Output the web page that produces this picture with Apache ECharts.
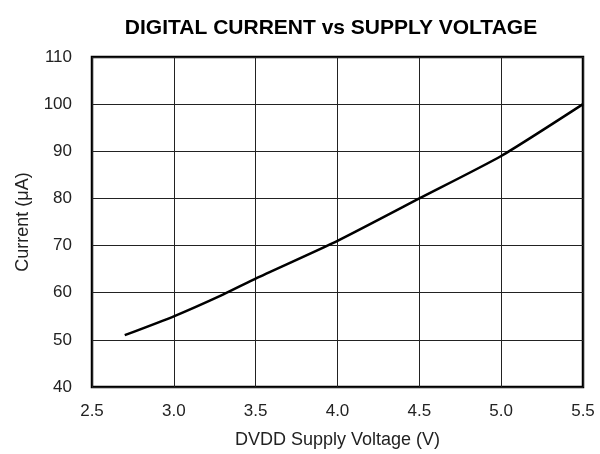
<!DOCTYPE html>
<html>
<head>
<meta charset="utf-8">
<script src="https://cdn.jsdelivr.net/npm/echarts@6/dist/echarts.min.js"></script>
<style>
  html, body { margin: 0; padding: 0; background: #fff; }
  #main { width: 600px; height: 454px; }
</style>
</head>
<body>
<div id="main"></div>
<script>
// supply voltage (V) and digital current (uA)
var voltage = [2.7, 3.0, 3.3, 3.5, 4.0, 4.5, 5.0, 5.5];
var current = [51, 55, 59.6, 63, 71, 80, 89, 100];

var chart = echarts.init(document.getElementById('main'));
var font = 'Liberation Sans, Arial, sans-serif';

var points = [];
for (var i = 0; i < voltage.length; i++) {
    points.push([voltage[i], current[i]]);
}

chart.setOption({
    animation: false,
    title: {
        text: 'DIGITAL CURRENT vs SUPPLY VOLTAGE',
        left: 326, top: 13, textAlign: 'center',
        textStyle: { fontFamily: font, fontSize: 21, fontWeight: 'bold', color: '#000' }
    },
    grid: {
        left: 92, right: 17, top: 57, bottom: 65,
        show: true, borderColor: '#000', borderWidth: 2.5, backgroundColor: 'transparent'
    },
    xAxis: {
        type: 'value', min: 2.5, max: 5.5, interval: 0.5,
        name: 'DVDD Supply Voltage (V)', nameLocation: 'middle', nameGap: 44,
        nameTextStyle: { fontFamily: font, fontSize: 18, color: '#222' },
        axisLine: { show: false }, axisTick: { show: false },
        axisLabel: {
            margin: 16, fontFamily: font, fontSize: 17, color: '#222',
            formatter: function(v) { return v.toFixed(1); }
        },
        splitLine: { show: true, lineStyle: { color: '#222', width: 1 } }
    },
    yAxis: {
        type: 'value', min: 40, max: 110, interval: 10,
        name: 'Current (\u03bcA)', nameLocation: 'middle', nameGap: 60,
        nameTextStyle: { fontFamily: font, fontSize: 18, color: '#222' },
        axisLine: { show: false }, axisTick: { show: false },
        axisLabel: { margin: 20, fontFamily: font, fontSize: 17, color: '#222' },
        splitLine: { show: true, lineStyle: { color: '#222', width: 1 } }
    },
    series: [{
        type: 'line',
        data: points,
        smooth: 0.2,
        showSymbol: false,
        lineStyle: { color: '#000', width: 2.5 }
    }]
});
</script>
</body>
</html>
